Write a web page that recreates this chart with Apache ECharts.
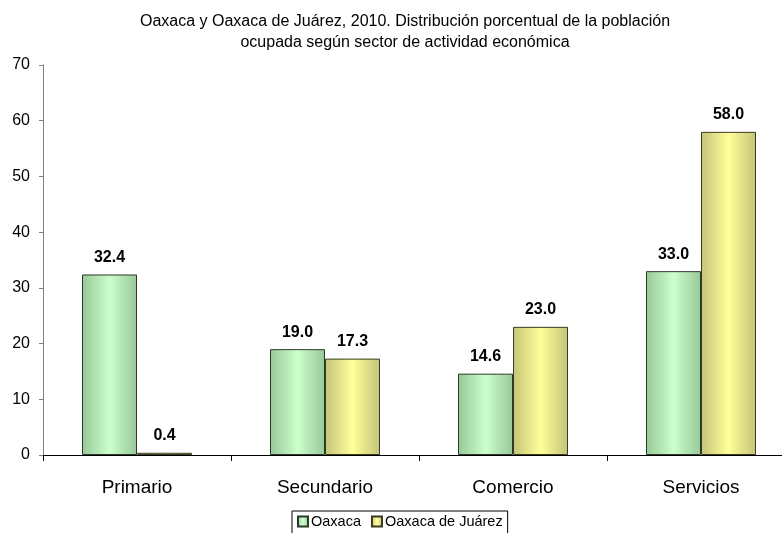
<!DOCTYPE html>
<html>
<head>
<meta charset="utf-8">
<script src="https://cdn.jsdelivr.net/npm/echarts@6/dist/echarts.min.js"></script>
<style>
  html, body { margin: 0; padding: 0; background: #fff; overflow: hidden; }
  /* el área de trazado se corta por la derecha como en el original */
  #chart { width: 800px; height: 533px; }
</style>
</head>
<body>
<div id="chart"></div>
<script>
// datos
const sectores = ['Primario', 'Secundario', 'Comercio', 'Servicios']
const oaxaca = [32.4, 19.0, 14.6, 33.0]
const oaxacaJuarez = [0.4, 17.3, 23.0, 58.0]
const yTicks = [0, 10, 20, 30, 40, 50, 60, 70]

const chart = echarts.init(document.getElementById('chart'))

// degradados horizontales tipo Excel
const grad = (edge, mid) => new echarts.graphic.LinearGradient(0, 0, 1, 0, [
  { offset: 0, color: edge },
  { offset: 0.5, color: mid },
  { offset: 1, color: edge }
])

const font = 'Liberation Sans, Arial, sans-serif'

const barLabel = {
  show: true,
  position: 'top',
  distance: 9,
  color: '#000',
  fontWeight: 'bold',
  fontSize: 16,
  fontFamily: font,
  formatter: p => p.value.toFixed(1)
}

chart.setOption({
  backgroundColor: '#fff',
  animation: false,
  title: {
    text: 'Oaxaca y Oaxaca de Juárez, 2010. Distribución porcentual de la población\nocupada según sector de actividad económica',
    left: 400,
    textAlign: 'center',
    top: 6,
    textStyle: { color: '#000', fontSize: 16, fontWeight: 'normal', fontFamily: font, lineHeight: 21 }
  },
  legend: {
    data: ['Oaxaca', 'Oaxaca de Juárez'],
    left: 292,
    top: 511,
    borderColor: '#000',
    borderWidth: 1,
    padding: [3, 5, 6, 5],
    itemGap: 10,
    itemWidth: 10,
    itemHeight: 10,
    icon: 'rect',
    textStyle: { color: '#000', fontSize: 14.5, fontFamily: font, padding: [0, 0, 0, -2] }
  },
  grid: { left: 43, right: 5, top: 65, bottom: 78, containLabel: false },
  xAxis: {
    type: 'category',
    data: sectores,
    axisLine: { lineStyle: { color: '#000', width: 1 } },
    axisTick: { show: true, length: 6, lineStyle: { color: '#000' } },
    axisLabel: { color: '#000', fontSize: 19, fontFamily: font, margin: 23 }
  },
  yAxis: {
    type: 'value',
    min: yTicks[0],
    max: yTicks[yTicks.length - 1],
    interval: 10,
    axisLine: { show: true, lineStyle: { color: '#808080' } },
    axisTick: { show: true, length: 4, inside: false, lineStyle: { color: '#808080' } },
    axisLabel: { color: '#000', fontSize: 16, fontFamily: font, margin: 13 },
    splitLine: { show: false }
  },
  series: [
    {
      name: 'Oaxaca',
      type: 'bar',
      data: oaxaca,
      barWidth: 55,
      barGap: '0%',
      itemStyle: { color: grad('#98c898', '#ccffcc'), borderColor: '#2a3a2a', borderWidth: 1 },
      label: barLabel
    },
    {
      name: 'Oaxaca de Juárez',
      type: 'bar',
      data: oaxacaJuarez,
      barWidth: 55,
      barGap: '0%',
      itemStyle: { color: grad('#c4c47a', '#ffff99'), borderColor: '#3a3a20', borderWidth: 1 },
      label: barLabel
    }
  ]
})
</script>
</body>
</html>
